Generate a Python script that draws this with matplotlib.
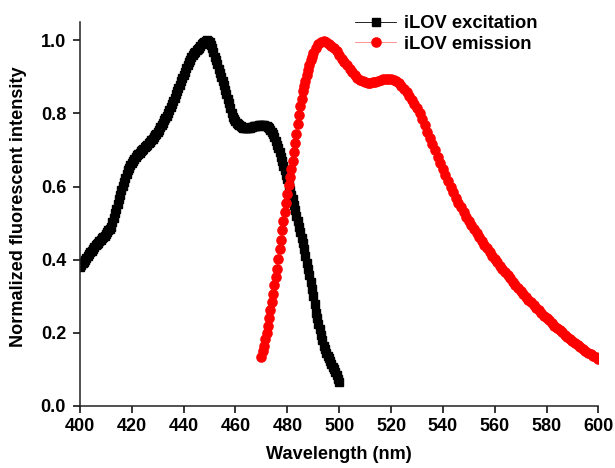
import numpy as np
import matplotlib
matplotlib.use("Agg")
import matplotlib.pyplot as plt

plt.rcParams['font.family'] = ['Liberation Sans', 'DejaVu Sans']
plt.rcParams['font.weight'] = 'bold'

# iLOV excitation, 0.5 nm steps
ex_wl = np.arange(400, 500.5, 0.5)
ex_int = [
    0.38, 0.385, 0.39, 0.395, 0.40, 0.405, 0.41, 0.415, 0.42, 0.425,          # 400-404.5
    0.43, 0.435, 0.44, 0.443, 0.447, 0.451, 0.455, 0.458, 0.462, 0.466,       # 405-409.5
    0.47, 0.475, 0.48, 0.485, 0.49, 0.502, 0.515, 0.527, 0.54, 0.552,         # 410-414.5
    0.565, 0.578, 0.59, 0.602, 0.613, 0.624, 0.635, 0.644, 0.652, 0.659,      # 415-419.5
    0.665, 0.67, 0.675, 0.68, 0.685, 0.689, 0.693, 0.697, 0.70, 0.704,        # 420-424.5
    0.708, 0.712, 0.715, 0.718, 0.722, 0.726, 0.73, 0.735, 0.74, 0.745,       # 425-429.5
    0.75, 0.756, 0.762, 0.768, 0.775, 0.781, 0.787, 0.793, 0.80, 0.808,       # 430-434.5
    0.817, 0.826, 0.835, 0.843, 0.852, 0.861, 0.87, 0.879, 0.888, 0.897,     # 435-439.5
    0.905, 0.914, 0.923, 0.932, 0.94, 0.947, 0.953, 0.959, 0.965, 0.969,      # 440-444.5
    0.973, 0.977, 0.98, 0.985, 0.99, 0.993, 0.995, 0.998, 1.0, 0.999,         # 445-449.5
    0.995, 0.988, 0.98, 0.968, 0.955, 0.945, 0.935, 0.922, 0.91, 0.90,        # 450-454.5
    0.89, 0.877, 0.865, 0.852, 0.84, 0.828, 0.815, 0.802, 0.79, 0.785,        # 455-459.5
    0.78, 0.775, 0.77, 0.767, 0.765, 0.762, 0.76, 0.76, 0.76, 0.76,           # 460-464.5
    0.76, 0.761, 0.762, 0.763, 0.765, 0.765, 0.766, 0.766, 0.767, 0.767,      # 465-469.5
    0.768, 0.768, 0.767, 0.766, 0.765, 0.763, 0.76, 0.755, 0.75, 0.743,       # 470-474.5
    0.735, 0.725, 0.715, 0.705, 0.695, 0.682, 0.67, 0.657, 0.645, 0.632,      # 475-479.5
    0.62, 0.605, 0.59, 0.578, 0.565, 0.55, 0.535, 0.52, 0.505, 0.49,          # 480-484.5
    0.475, 0.46, 0.445, 0.428, 0.41, 0.392, 0.375, 0.358, 0.34, 0.32,         # 485-489.5
    0.30, 0.278, 0.255, 0.24, 0.225, 0.21, 0.195, 0.18, 0.165, 0.155,         # 490-494.5
    0.145, 0.137, 0.13, 0.122, 0.115, 0.107, 0.10, 0.092, 0.085, 0.075,       # 495-499.5
    0.065,                                                                    # 500
]

# iLOV emission: 0.5 nm steps on the rising edge, then 1 nm steps
em_wl = np.concatenate([np.arange(470, 490.5, 0.5), np.arange(491, 601, 1.0)])
em_int = [
    0.135, 0.15, 0.165, 0.182, 0.20, 0.22, 0.24, 0.262, 0.285, 0.307,    # 470-474.5
    0.33, 0.352, 0.375, 0.402, 0.43, 0.455, 0.48, 0.505, 0.53, 0.555,    # 475-479.5
    0.58, 0.603, 0.625, 0.648, 0.67, 0.695, 0.72, 0.745, 0.77, 0.795,    # 480-484.5
    0.82, 0.84, 0.86, 0.875, 0.89, 0.905, 0.92, 0.933, 0.945, 0.955,     # 485-489.5
    0.965,                                                               # 490
    0.98, 0.99, 0.995, 0.998, 0.995, 0.99, 0.985, 0.978, 0.97,           # 491-499
    0.96, 0.95, 0.94, 0.932, 0.922, 0.913, 0.905, 0.898, 0.892, 0.888,   # 500-509
    0.885, 0.884, 0.884, 0.885, 0.887, 0.889, 0.891, 0.893, 0.894, 0.894,  # 510-519
    0.894, 0.892, 0.888, 0.882, 0.876, 0.868, 0.858, 0.848, 0.838, 0.827,  # 520-529
    0.815, 0.80, 0.784, 0.767, 0.75, 0.733, 0.716, 0.699, 0.682, 0.665,    # 530-539
    0.648, 0.632, 0.616, 0.60, 0.585, 0.57, 0.556, 0.543, 0.53, 0.518,     # 540-549
    0.506, 0.494, 0.483, 0.472, 0.461, 0.451, 0.441, 0.431, 0.421, 0.411,  # 550-559
    0.402, 0.393, 0.384, 0.375, 0.366, 0.357, 0.349, 0.34, 0.332, 0.323,   # 560-569
    0.315, 0.307, 0.299, 0.291, 0.284, 0.276, 0.269, 0.262, 0.254, 0.247,  # 570-579
    0.24, 0.234, 0.227, 0.22, 0.214, 0.207, 0.201, 0.195, 0.189, 0.183,   # 580-589
    0.177, 0.171, 0.166, 0.161, 0.156, 0.151, 0.146, 0.141, 0.137, 0.133,  # 590-599
    0.128,                                                                # 600
]

x_ticks = np.arange(400, 601, 20)
y_ticks = [0.0, 0.2, 0.4, 0.6, 0.8, 1.0]

fig = plt.figure(figsize=(6.15, 4.68), dpi=100)
ax = fig.add_axes([0.130, 0.1325, 0.843, 0.8205])

ax.plot(ex_wl, ex_int, color='black', lw=0.6, marker='s', ms=6.2,
        mec='black', mfc='black', label='iLOV excitation')
ax.plot(em_wl, em_int, color='#ff8080', lw=0.6, marker='o', ms=6.6,
        mec='red', mfc='red', label='iLOV emission')

ax.set_xlim(400, 600)
ax.set_ylim(0, 1.05)
ax.set_xticks(x_ticks)
ax.set_yticks(y_ticks)
ax.set_yticklabels([f"{v:.1f}" for v in y_ticks])
ax.tick_params(direction='out', length=5, width=1.1, labelsize=13)
ax.tick_params(axis='x', pad=4)
ax.tick_params(axis='y', pad=5)
for s in ['top', 'right']:
    ax.spines[s].set_visible(False)
for s in ['left', 'bottom']:
    ax.spines[s].set_linewidth(1.1)
    ax.spines[s].set_color('#222222')

ax.set_xlabel('Wavelength (nm)', fontsize=13.1, fontweight='bold')
ax.set_ylabel('Normalized fluorescent intensity', fontsize=13.1, fontweight='bold')
ax.xaxis.set_label_coords(0.5, -0.104)
ax.yaxis.set_label_coords(-0.103, 0.518)

ax.legend(loc='upper left', bbox_to_anchor=(0.578, 0.968),
          bbox_transform=fig.transFigure, frameon=False,
          numpoints=1, handlelength=2.2, handletextpad=0.45,
          labelspacing=0.2, borderpad=0, borderaxespad=0,
          prop={'weight': 'bold', 'size': 13.2})

fig.savefig('out.png', dpi=100)
